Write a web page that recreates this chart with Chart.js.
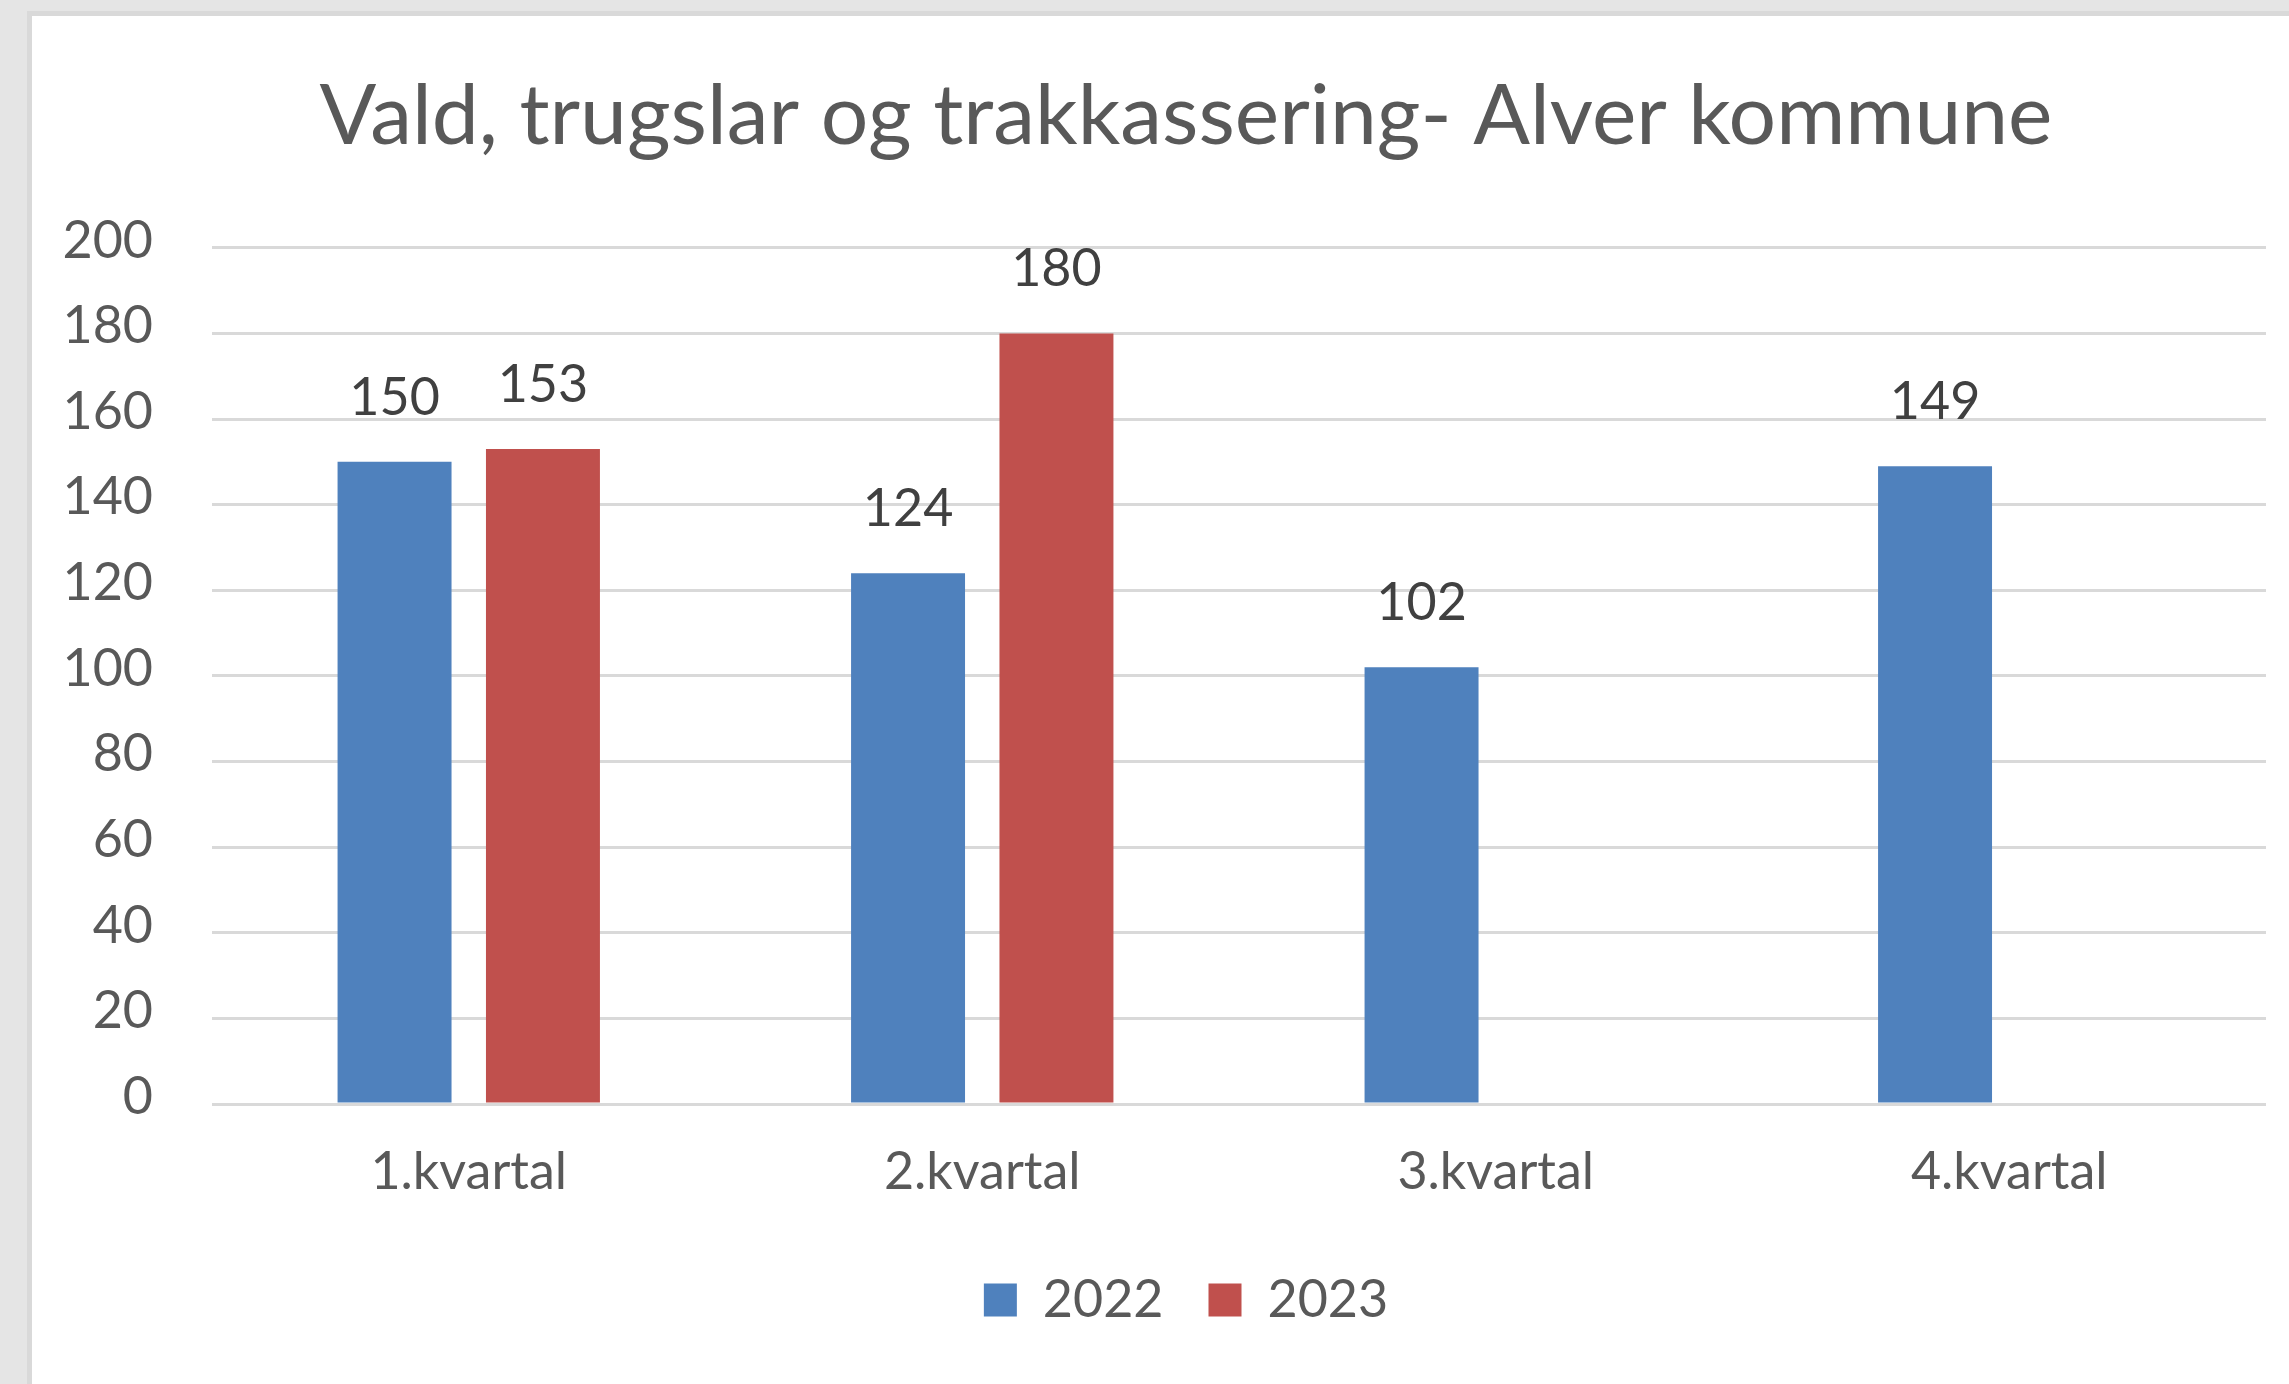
<!DOCTYPE html>
<html>
<head>
  <title>Vald, trugslar og trakkassering</title>
  <style>
    body {
      margin: 0;
      background-color: #e5e5e5;
      overflow: hidden;
    }

    #frame {
      position: absolute;
      left: 27px;
      top: 11px;
      width: 2257px;
      height: 1368px;
      background-color: white;
      border-left: 5px solid #d9d9d9;
      border-top: 5px solid #d9d9d9;
    }
  </style>
  <script src="https://cdn.jsdelivr.net/npm/chart.js"></script>

  <script>
    const kvartal = ['1.kvartal', '2.kvartal', '3.kvartal', '4.kvartal'];
    const verdiar2022 = [150, 124, 102, 149];
    const verdiar2023 = [153, 180, null, null];
    const yTicks = [0, 20, 40, 60, 80, 100, 120, 140, 160, 180, 200];

    const fontFamily = 'Lato, "Open Sans", sans-serif';

    // Talverdiar over kvar søyle
    const dataLabels = {
      id: 'dataLabels',
      afterDatasetsDraw(chart) {
        const ctx = chart.ctx;
        ctx.save();
        ctx.font = '52px ' + fontFamily;
        ctx.fillStyle = '#404040';
        ctx.textAlign = 'center';
        ctx.textBaseline = 'middle';
        chart.data.datasets.forEach(function (ds, i) {
          const meta = chart.getDatasetMeta(i);
          meta.data.forEach(function (bar, j) {
            if (ds.data[j] === null) return;
            ctx.fillText(ds.data[j], bar.x, bar.y - 64);
          });
        });
        ctx.restore();
      }
    };

    // Tittel og forklaring litt til høgre, som i originalen
    const shiftBlocks = {
      id: 'shiftBlocks',
      afterLayout(chart) {
        [chart.titleBlock, chart.legend].forEach(function (b) {
          if (!b) return;
          b.left += 74;
        });
      }
    };

    document.addEventListener('DOMContentLoaded', function () {
      const canvas = document.getElementById('chart');
      const ctx = canvas.getContext('2d');

      new Chart(ctx, {
        type: 'bar',
        data: {
          labels: kvartal,
          datasets: [
            {
              label: '2022',
              data: verdiar2022,
              backgroundColor: '#4f81bd',
              categoryPercentage: 0.578,
              barPercentage: 0.768
            },
            {
              label: '2023',
              data: verdiar2023,
              backgroundColor: '#c0504d',
              categoryPercentage: 0.578,
              barPercentage: 0.768
            }
          ]
        },
        options: {
          responsive: false,
          animation: false,
          layout: {
            padding: { left: 0, right: 23, top: 0, bottom: 48 }
          },
          plugins: {
            title: {
              display: true,
              text: 'Vald, trugslar og trakkassering- Alver kommune',
              color: '#595959',
              font: { family: fontFamily, size: 84, weight: 'normal' },
              padding: { top: 51, bottom: 80 }
            },
            legend: {
              position: 'bottom',
              labels: {
                color: '#595959',
                font: { family: fontFamily, size: 52 },
                boxWidth: 33,
                boxHeight: 33,
                padding: 45
              }
            },
            tooltip: { enabled: false }
          },
          scales: {
            x: {
              grid: { display: false },
              border: { display: false },
              ticks: {
                color: '#595959',
                font: { family: fontFamily, size: 52 },
                padding: 29
              },
              afterFit: function (scale) {
                scale.height = 125;
              }
            },
            y: {
              min: 0,
              max: 200,
              afterBuildTicks: function (scale) {
                scale.ticks = yTicks.map(function (v) { return { value: v }; });
              },
              grid: {
                color: '#d9d9d9',
                lineWidth: 3,
                drawTicks: false
              },
              border: { display: false },
              ticks: {
                color: '#595959',
                font: { family: fontFamily, size: 52 },
                padding: 59,
                labelOffset: -7
              },
              afterFit: function (scale) {
                scale.width = 180;
              }
            }
          }
        },
        plugins: [dataLabels, shiftBlocks]
      });
    });
  </script>
</head>
<body>
  <div id="frame">
    <canvas id="chart" width="2257" height="1368"></canvas>
  </div>
</body>
</html>
